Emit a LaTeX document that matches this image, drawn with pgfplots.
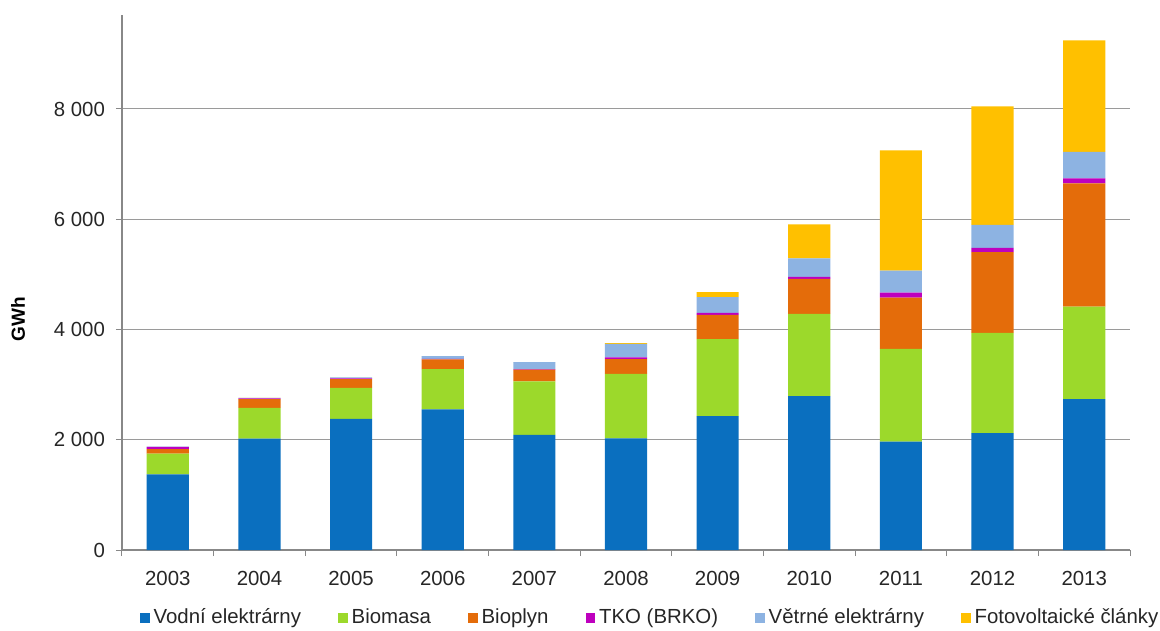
\documentclass[border=0pt]{standalone}
\usepackage{fontspec}
\setmainfont{Liberation Sans}
\usepackage{pgfplots}
\pgfplotsset{compat=1.18}
\usetikzlibrary{calc}
\definecolor{cVod}{HTML}{0A6FBF}
\definecolor{cBiom}{HTML}{9CD92B}
\definecolor{cBiop}{HTML}{E46C0A}
\definecolor{cTKO}{HTML}{BE00BE}
\definecolor{cVet}{HTML}{8DB3E2}
\definecolor{cFV}{HTML}{FFC000}
\definecolor{axisgray}{HTML}{888888}
\definecolor{gridgray}{HTML}{9A9A9A}
\definecolor{txt}{HTML}{262626}
\begin{document}
\begin{tikzpicture}
\begin{axis}[
  scale only axis, width=504pt, height=267.5pt,
  xmin=-0.5, xmax=10.5, ymin=0, ymax=9705,
  ybar stacked, bar width=0.46,
  axis x line*=bottom, axis y line*=left,
  axis line style={draw=axisgray, line width=0.6pt, -},
  xtick={0,1,2,3,4,5,6,7,8,9,10},
  xticklabels={2003,2004,2005,2006,2007,2008,2009,2010,2011,2012,2013},
  xtick style={draw=none},
  extra x ticks={-0.5,0.5,1.5,2.5,3.5,4.5,5.5,6.5,7.5,8.5,9.5,10.5},
  extra x tick labels={},
  extra x tick style={xtick style={draw=axisgray, line width=0.5pt}, grid=none},
  ytick={0,2000,4000,6000,8000},
  yticklabels={0,{2 000},{4 000},{6 000},{8 000}},
  ytick style={draw=axisgray, line width=0.5pt},
  tick align=outside, major tick length=3pt,
  ymajorgrids, grid style={draw=gridgray, line width=0.5pt},
  tick label style={font=\fontsize{10.2}{12}\selectfont, text=txt},
  xticklabel style={yshift=-4pt},
  yticklabel style={xshift=-2pt},
  ylabel={GWh},
  ylabel style={at={(rel axis cs:-0.103,0.432)}, anchor=center, font=\fontsize{9.5}{11}\selectfont\bfseries, text=black},
  legend style={at={(rel axis cs:0.525,-0.127)}, anchor=center, draw=none, fill=none,
    legend columns=-1, font=\fontsize{10.2}{12}\selectfont, text=txt,
    /tikz/every even column/.append style={column sep=16.5pt},
    nodes={inner xsep=2pt}},
  legend image code/.code={\fill[#1] (0pt,-2.4pt) rectangle (4.8pt,2.4pt);},
  clip=false,
]
\addplot[fill=cVod, draw=none] coordinates {(0,1370) (1,2019) (2,2380) (3,2551) (4,2090) (5,2024) (6,2429) (7,2790) (8,1964) (9,2120) (10,2739)};
\addplot[fill=cBiom, draw=none] coordinates {(0,380) (1,560) (2,560) (3,731) (4,968) (5,1171) (6,1396) (7,1492) (8,1685) (9,1817) (10,1675)};
\addplot[fill=cBiop, draw=none] coordinates {(0,80) (1,160) (2,161) (3,176) (4,213) (5,267) (6,442) (7,635) (8,929) (9,1467) (10,2238)};
\addplot[fill=cTKO, draw=none] coordinates {(0,40) (1,10) (2,11) (3,11) (4,11) (5,33) (6,34) (7,37) (8,91) (9,79) (10,91)};
\addplot[fill=cVet, draw=none] coordinates {(0,4) (1,10) (2,21) (3,49) (4,125) (5,245) (6,288) (7,336) (8,397) (9,416) (10,480)};
\addplot[fill=cFV, draw=none] coordinates {(0,0) (1,0.1) (2,0.4) (3,0.5) (4,2) (5,13) (6,89) (7,616) (8,2182) (9,2149) (10,2020)};
\legend{Vodní elektrárny, Biomasa, Bioplyn, TKO (BRKO), Větrné elektrárny, Fotovoltaické články}
\coordinate (bl) at (rel axis cs:0,0);
\coordinate (tr) at (rel axis cs:1,1);
\end{axis}
\pgfresetboundingbox
\path ($(bl)+(-61pt,-40pt)$) rectangle ($(tr)+(15pt,7.5pt)$);
\end{tikzpicture}
\end{document}
